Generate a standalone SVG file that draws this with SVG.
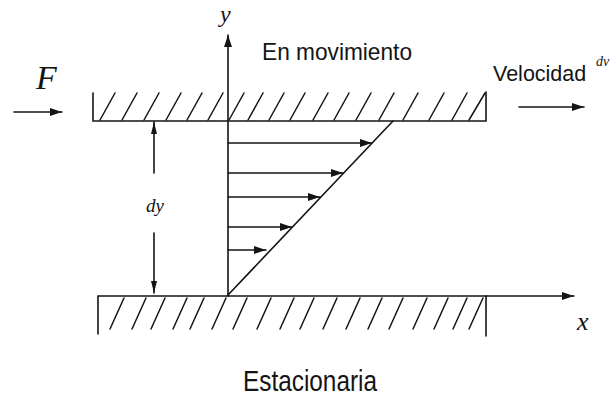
<svg xmlns="http://www.w3.org/2000/svg" width="612" height="398" viewBox="0 0 612 398">
  <style>
    .ln { stroke: #141414; stroke-width: 1.6; fill: none; stroke-linecap: round; }
    .ht { stroke: #141414; stroke-width: 1.5; fill: none; stroke-linecap: round; }
    .sans { font-family: "Liberation Sans", "DejaVu Sans", sans-serif; fill: #141414; }
    .ital { font-family: "Liberation Serif", "DejaVu Serif", serif; font-style: italic; fill: #141414; }
  </style>
  <defs>
    <marker id="ah" markerUnits="userSpaceOnUse" markerWidth="13" markerHeight="8" refX="12" refY="4" orient="auto">
      <path d="M0,0 L12,4 L0,8 z" fill="#141414"/>
    </marker>
    <marker id="ahs" markerUnits="userSpaceOnUse" markerWidth="13" markerHeight="7" refX="12" refY="3.5" orient="auto">
      <path d="M0,0.5 L12,3.5 L0,6.5 z" fill="#141414"/>
    </marker>
  </defs>
  <rect width="612" height="398" fill="#ffffff"/>

  <g id="top-plate">
    <path class="ln" d="M93,93 L93,121 L486,121 L486,92"/>
    <g class="ht">
      <line x1="100" y1="120" x2="115" y2="93"/>
      <line x1="122" y1="120" x2="137" y2="93"/>
      <line x1="144" y1="120" x2="159" y2="93"/>
      <line x1="166" y1="120" x2="181" y2="93"/>
      <line x1="187" y1="120" x2="202" y2="93"/>
      <line x1="208" y1="120" x2="223" y2="93"/>
      <line x1="229" y1="120" x2="244" y2="93"/>
      <line x1="248" y1="120" x2="263" y2="93"/>
      <line x1="269" y1="120" x2="284" y2="93"/>
      <line x1="290" y1="120" x2="305" y2="93"/>
      <line x1="313" y1="120" x2="328" y2="93"/>
      <line x1="334" y1="120" x2="349" y2="93"/>
      <line x1="356" y1="120" x2="371" y2="93"/>
      <line x1="379" y1="120" x2="394" y2="93"/>
      <line x1="403" y1="120" x2="418" y2="93"/>
      <line x1="429" y1="120" x2="444" y2="93"/>
      <line x1="452" y1="120" x2="467" y2="93"/>
      <line x1="469" y1="120" x2="485" y2="93"/>
    </g>
  </g>

  <g id="bottom-plate">
    <path class="ln" d="M98,334 L98,296 L486,296 L486,336"/>
    <g class="ht">
      <line x1="110" y1="329" x2="124" y2="298"/>
      <line x1="132" y1="329" x2="146" y2="298"/>
      <line x1="151" y1="329" x2="165" y2="298"/>
      <line x1="173" y1="329" x2="187" y2="298"/>
      <line x1="190" y1="329" x2="204" y2="298"/>
      <line x1="212" y1="329" x2="226" y2="298"/>
      <line x1="233" y1="329" x2="247" y2="298"/>
      <line x1="257" y1="329" x2="271" y2="298"/>
      <line x1="280" y1="329" x2="294" y2="298"/>
      <line x1="300" y1="329" x2="314" y2="298"/>
      <line x1="323" y1="329" x2="337" y2="298"/>
      <line x1="346" y1="329" x2="360" y2="298"/>
      <line x1="368" y1="329" x2="382" y2="298"/>
      <line x1="389" y1="329" x2="403" y2="298"/>
      <line x1="413" y1="329" x2="427" y2="298"/>
      <line x1="434" y1="329" x2="448" y2="298"/>
      <line x1="453" y1="329" x2="467" y2="298"/>
      <line x1="469" y1="329" x2="483" y2="298"/>
    </g>
  </g>

  <g id="velocity-profile">
    <line class="ln" x1="228" y1="295" x2="393" y2="121"/>
  </g>

  <g id="connectors">
    <line class="ln" x1="228" y1="296" x2="228" y2="35" marker-end="url(#ah)"/>
    <line class="ln" x1="486" y1="296" x2="574" y2="296" marker-end="url(#ah)"/>
    <line class="ln" x1="14" y1="112" x2="62" y2="112" marker-end="url(#ah)"/>
    <line class="ln" x1="519" y1="107" x2="584" y2="107" marker-end="url(#ah)"/>
    <line class="ln" x1="154" y1="173" x2="154" y2="122" marker-end="url(#ahs)"/>
    <line class="ln" x1="154" y1="233" x2="154" y2="293" marker-end="url(#ahs)"/>
    <line class="ln" x1="228" y1="143" x2="372" y2="143" marker-end="url(#ah)"/>
    <line class="ln" x1="228" y1="173" x2="343" y2="173" marker-end="url(#ah)"/>
    <line class="ln" x1="228" y1="197" x2="320" y2="197" marker-end="url(#ah)"/>
    <line class="ln" x1="228" y1="227" x2="292" y2="227" marker-end="url(#ah)"/>
    <line class="ln" x1="228" y1="250" x2="266" y2="250" marker-end="url(#ah)"/>
  </g>

  <g id="labels">
    <text class="ital" x="220" y="22" font-size="24">y</text>
    <text class="sans" x="262" y="60" font-size="24" textLength="150" lengthAdjust="spacingAndGlyphs">En movimiento</text>
    <text class="ital" x="36" y="89" font-size="34">F</text>
    <text class="sans" x="493" y="81" font-size="21.5">Velocidad</text>
    <text class="ital" x="596" y="66" font-size="14">dv</text>
    <text class="ital" x="146" y="212" font-size="19">dy</text>
    <text class="ital" x="577" y="330" font-size="26">x</text>
    <text class="sans" x="243" y="391" font-size="29" textLength="134" lengthAdjust="spacingAndGlyphs">Estacionaria</text>
  </g>
</svg>
